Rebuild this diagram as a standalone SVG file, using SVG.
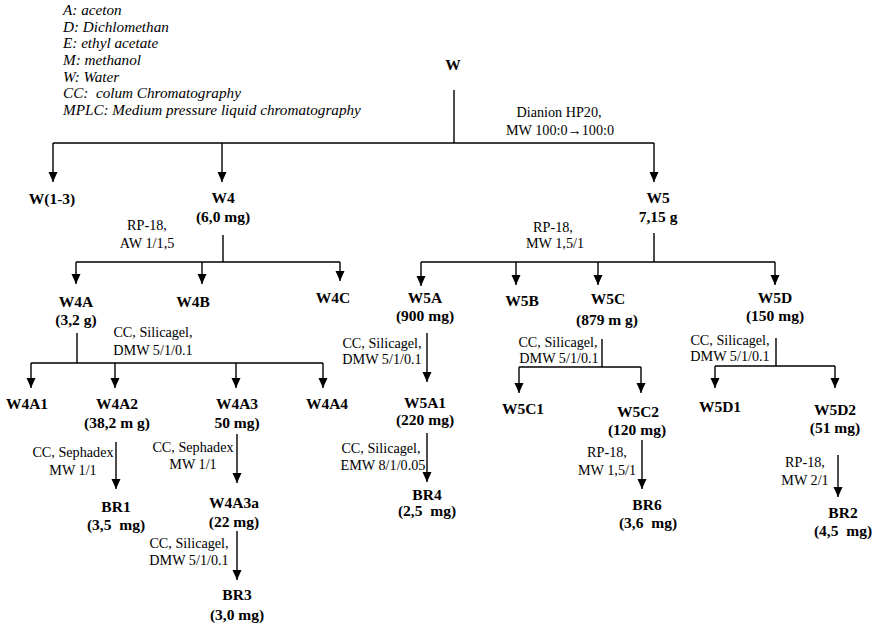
<svg xmlns="http://www.w3.org/2000/svg" width="879" height="624" viewBox="0 0 879 624">
<style>
.legend{font-family:"Liberation Serif",serif;font-style:italic;font-size:15.2px;fill:#000}
.n{font-family:"Liberation Serif",serif;font-weight:bold;font-size:15.5px;fill:#000;text-anchor:middle}
.c{font-family:"Liberation Serif",serif;font-size:14.2px;fill:#000;text-anchor:middle}
.ln{stroke:#000;stroke-width:1.4;fill:none}
.ar{stroke:#000;stroke-width:1.4;fill:none;marker-end:url(#ah)}
</style>
<defs>
<marker id="ah" markerUnits="userSpaceOnUse" markerWidth="10" markerHeight="10" viewBox="0 -5 10 10" refX="10" refY="0" orient="auto">
<path d="M0,-4.5 L10,0 L0,4.5 Z" fill="#000"/>
</marker>
</defs>
<rect width="879" height="624" fill="#fff"/>
<g id="legend" class="legend">
<text x="63" y="15">A: aceton</text>
<text x="63" y="32">D: Dichlomethan</text>
<text x="63" y="48">E: ethyl acetate</text>
<text x="63" y="65">M: methanol</text>
<text x="63" y="82">W: Water</text>
<text x="63" y="98">CC:&#160; colum Chromatography</text>
<text x="63" y="115">MPLC: Medium pressure liquid chromatography</text>
</g>
<g id="connectors">
<path class="ln" d="M454,90 V143 M53,143 H654"/>
<path class="ar" d="M53,143 V182"/>
<path class="ar" d="M222,143 V182"/>
<path class="ar" d="M654,143 V182"/>
<path class="ln" d="M223,235 V262 M76,262 H340"/>
<path class="ar" d="M76,262 V284"/>
<path class="ar" d="M202,262 V284"/>
<path class="ar" d="M340,262 V281"/>
<path class="ln" d="M77,333 V363 M31,363 H323"/>
<path class="ar" d="M31,363 V388"/>
<path class="ar" d="M115,363 V388"/>
<path class="ar" d="M236,363 V388"/>
<path class="ar" d="M323,363 V388"/>
<path class="ar" d="M116,442 V489"/>
<path class="ar" d="M237,434 V483"/>
<path class="ar" d="M237,531 V580"/>
<path class="ln" d="M654,233 V262 M421,262 H775"/>
<path class="ar" d="M421,262 V286"/>
<path class="ar" d="M516,262 V285"/>
<path class="ar" d="M598,262 V285"/>
<path class="ar" d="M775,262 V285"/>
<path class="ar" d="M427,333 V382"/>
<path class="ar" d="M427,433 V482"/>
<path class="ln" d="M602,339 V367 M519,367 H641"/>
<path class="ar" d="M519,367 V393"/>
<path class="ar" d="M641,367 V393"/>
<path class="ar" d="M642,440 V489"/>
<path class="ln" d="M776,338 V366 M715,366 H835"/>
<path class="ar" d="M715,366 V388"/>
<path class="ar" d="M835,366 V388"/>
<path class="ar" d="M838,455 V497"/>
</g>
<g id="labels" class="c">
<text x="559" y="117">Dianion HP20,</text>
<text x="560" y="135">MW 100:0→100:0</text>
<text x="147" y="230">RP-18,</text>
<text x="147" y="248">AW 1/1,5</text>
<text x="153" y="337">CC, Silicagel,</text>
<text x="153" y="355">DMW 5/1/0.1</text>
<text x="73" y="457">CC, Sephadex</text>
<text x="73" y="475">MW 1/1</text>
<text x="193" y="452">CC, Sephadex</text>
<text x="193" y="469">MW 1/1</text>
<text x="189" y="548">CC, Silicagel,</text>
<text x="189" y="565">DMW 5/1/0.1</text>
<text x="553" y="232">RP-18,</text>
<text x="555" y="248">MW 1,5/1</text>
<text x="382" y="348">CC, Silicagel,</text>
<text x="382" y="364">DMW 5/1/0.1</text>
<text x="381" y="453">CC, Silicagel,</text>
<text x="383" y="470">EMW 8/1/0.05</text>
<text x="558" y="347">CC, Silicagel,</text>
<text x="559" y="363">DMW 5/1/0.1</text>
<text x="607" y="457">RP-18,</text>
<text x="607" y="475">MW 1,5/1</text>
<text x="730" y="345">CC, Silicagel,</text>
<text x="730" y="361">DMW 5/1/0.1</text>
<text x="805" y="467">RP-18,</text>
<text x="805" y="485">MW 2/1</text>
</g>
<g id="W" class="n"><text x="453" y="70">W</text></g>
<g id="W1-3" class="n"><text x="52" y="204">W(1-3)</text></g>
<g id="W4" class="n"><text x="223" y="203">W4</text><text x="223" y="222">(6,0 mg)</text></g>
<g id="W5" class="n"><text x="658" y="203">W5</text><text x="658" y="222">7,15 g</text></g>
<g id="W4A" class="n"><text x="76" y="307">W4A</text><text x="76" y="325">(3,2 g)</text></g>
<g id="W4B" class="n"><text x="193" y="307">W4B</text></g>
<g id="W4C" class="n"><text x="333" y="303">W4C</text></g>
<g id="W4A1" class="n"><text x="27" y="409">W4A1</text></g>
<g id="W4A2" class="n"><text x="117" y="409">W4A2</text><text x="117" y="428">(38,2 m g)</text></g>
<g id="W4A3" class="n"><text x="237" y="409">W4A3</text><text x="237" y="428">50 mg)</text></g>
<g id="W4A4" class="n"><text x="327" y="409">W4A4</text></g>
<g id="BR1" class="n"><text x="116" y="512">BR1</text><text x="116" y="530">(3,5&#160; mg)</text></g>
<g id="W4A3a" class="n"><text x="234" y="508">W4A3a</text><text x="234" y="527">(22 mg)</text></g>
<g id="BR3" class="n"><text x="237" y="600">BR3</text><text x="237" y="620">(3,0 mg)</text></g>
<g id="W5A" class="n"><text x="425" y="303">W5A</text><text x="425" y="321">(900 mg)</text></g>
<g id="W5B" class="n"><text x="522" y="306">W5B</text></g>
<g id="W5C" class="n"><text x="608" y="304">W5C</text><text x="607" y="325">(879 m g)</text></g>
<g id="W5D" class="n"><text x="775" y="303">W5D</text><text x="775" y="321">(150 mg)</text></g>
<g id="W5A1" class="n"><text x="425" y="408">W5A1</text><text x="425" y="425">(220 mg)</text></g>
<g id="BR4" class="n"><text x="427" y="500">BR4</text><text x="427" y="516">(2,5&#160; mg)</text></g>
<g id="W5C1" class="n"><text x="523" y="414">W5C1</text></g>
<g id="W5C2" class="n"><text x="638" y="417">W5C2</text><text x="637" y="435">(120 mg)</text></g>
<g id="BR6" class="n"><text x="647" y="510">BR6</text><text x="648" y="528">(3,6&#160; mg)</text></g>
<g id="W5D1" class="n"><text x="720" y="412">W5D1</text></g>
<g id="W5D2" class="n"><text x="835" y="415">W5D2</text><text x="835" y="433">(51 mg)</text></g>
<g id="BR2" class="n"><text x="843" y="518">BR2</text><text x="843" y="536">(4,5&#160; mg)</text></g>
</svg>
